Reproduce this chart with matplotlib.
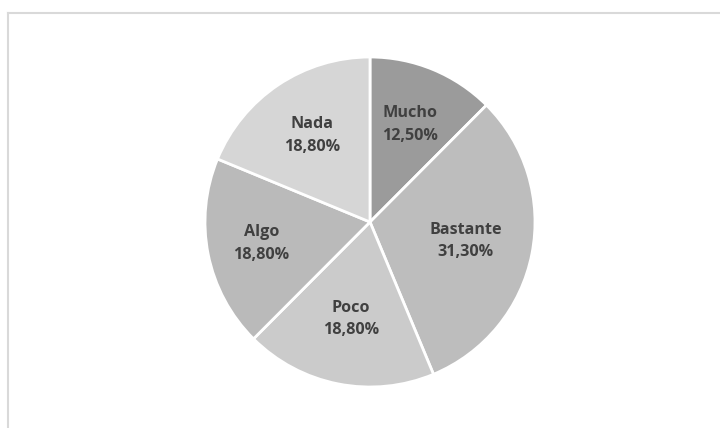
import numpy as np
import matplotlib
matplotlib.use("Agg")
import matplotlib.pyplot as plt
from matplotlib.lines import Line2D

labels = ["Mucho", "Bastante", "Poco", "Algo", "Nada"]
values = [12.5, 31.3, 18.8, 18.8, 18.8]
value_text = ["12,50%", "31,30%", "18,80%", "18,80%", "18,80%"]
colors = ["#9b9b9b", "#bdbdbd", "#cbcbcb", "#bababa", "#d6d6d6"]
# radial placement of each label, as a fraction of the radius
label_dist = [0.64, 0.59, 0.60, 0.67, 0.63]

W, H = 720, 428
fig = plt.figure(figsize=(W / 100, H / 100), dpi=100)
fig.patch.set_facecolor("white")

# chart area frame (left and top edges visible)
fx, fy = 7.5 / W, 1 - 12.5 / H
fig.add_artist(Line2D([fx, fx], [0, fy], transform=fig.transFigure, color="#d9d9d9", lw=1.5))
fig.add_artist(Line2D([fx, 1], [fy, fy], transform=fig.transFigure, color="#d9d9d9", lw=1.5))

cx, cy, r = 370, 222, 165
ax = fig.add_axes([(cx - r) / W, (H - cy - r) / H, 2 * r / W, 2 * r / H])
wedges, _ = ax.pie(
    values,
    colors=colors,
    startangle=90,
    counterclock=False,
    radius=1,
    wedgeprops=dict(edgecolor="white", linewidth=2),
)
for w, lab, vt, d in zip(wedges, labels, value_text, label_dist):
    mid = np.deg2rad((w.theta1 + w.theta2) / 2)
    ax.text(d * np.cos(mid), d * np.sin(mid), f"{lab}\n{vt}",
            ha="center", va="center", fontsize=11.6, fontweight="bold",
            color="#404040", family=["Open Sans", "DejaVu Sans"],
            linespacing=1.55)
ax.set_xlim(-1, 1)
ax.set_ylim(-1, 1)
ax.set_aspect("equal")
ax.axis("off")

fig.savefig("out.png", dpi=100, facecolor="white")
